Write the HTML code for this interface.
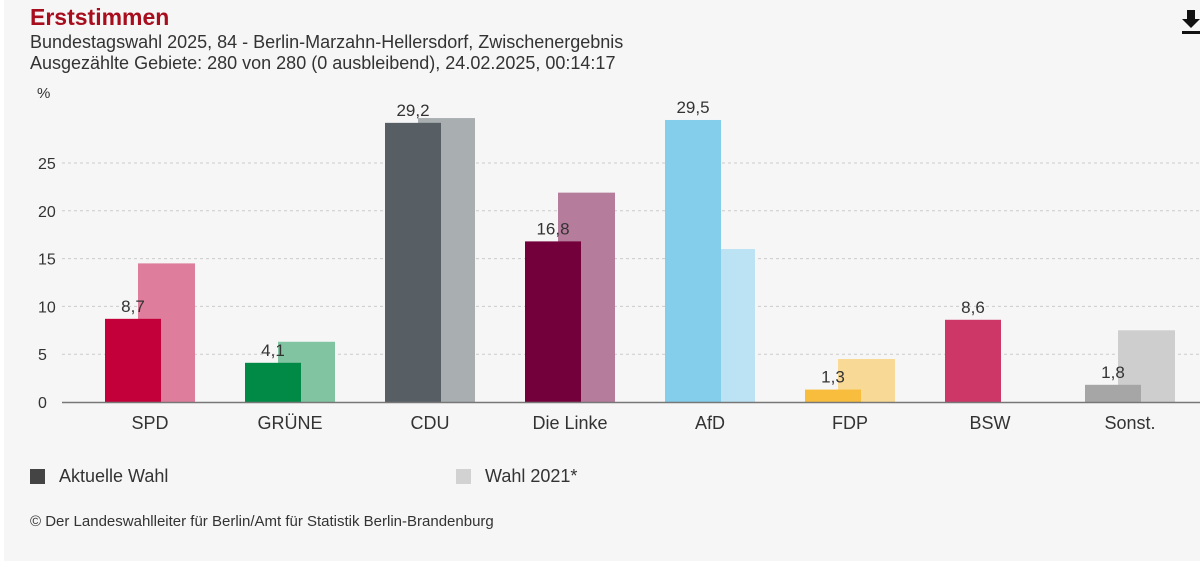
<!DOCTYPE html>
<html><head><meta charset="utf-8"><style>
body{margin:0;width:1200px;height:569px;background:#fff;overflow:hidden;font-family:"Liberation Sans",sans-serif;}
#panel{position:absolute;left:4px;top:0;width:1196px;height:561px;background:#f6f6f6;}
.t{position:absolute;white-space:nowrap;}
</style></head><body>
<div id="panel"></div>
<div class="t" style="left:30px;top:4px;font-size:23px;font-weight:bold;color:#a80d1e;">Erststimmen</div>
<div class="t" style="left:30px;top:32px;font-size:18px;color:#333;">Bundestagswahl 2025, 84 - Berlin-Marzahn-Hellersdorf, Zwischenergebnis</div>
<div class="t" style="left:30px;top:53px;font-size:18px;color:#333;">Ausgezählte Gebiete: 280 von 280 (0 ausbleibend), 24.02.2025, 00:14:17</div>
<svg style="position:absolute;left:1182px;top:10px" width="18" height="26"><path d="M5 0h8v9h5l-9 9-9-9h5z" fill="#111"/><rect x="0" y="21" width="18" height="3" fill="#111"/></svg>
<svg id="chart" width="1200" height="569" style="position:absolute;left:0;top:0;font-family:'Liberation Sans',sans-serif"></svg>
<div style="position:absolute;left:30px;top:466px;"><span style="display:inline-block;width:15px;height:15px;background:#444;vertical-align:-2px"></span><span style="font-size:18px;color:#333;margin-left:14px">Aktuelle Wahl</span></div>
<div style="position:absolute;left:456px;top:466px;"><span style="display:inline-block;width:15px;height:15px;background:#d2d2d2;vertical-align:-2px"></span><span style="font-size:18px;color:#333;margin-left:14px">Wahl 2021*</span></div>
<div class="t" style="left:30px;top:513px;font-size:15px;color:#333;">© Der Landeswahlleiter für Berlin/Amt für Statistik Berlin-Brandenburg</div>
<script>
const categories=["SPD","GRÜNE","CDU","Die Linke","AfD","FDP","BSW","Sonst."];
const current=[8.7,4.1,29.2,16.8,29.5,1.3,8.6,1.8];
const prev=[14.5,6.3,29.7,21.9,16.0,4.5,null,7.5];
const ticks=[0,5,10,15,20,25];
const curColors=["#c4003b","#008a46","#575f64","#73003a","#84cdeb","#f8bd3c","#cc3768","#a6a6a6"];
const prevColors=["#de7e9c","#80c4a2","#a9aeb0","#b57c9c","#bce3f4","#f8d995","#e59bb3","#cecece"];
const svg=document.getElementById('chart');
const NS="http://www.w3.org/2000/svg";
const y=v=>402-v*9.56;
const xc=i=>150+i*140;
function mk(t,a){const e=document.createElementNS(NS,t);for(const k in a)e.setAttribute(k,a[k]);svg.appendChild(e);return e;}
ticks.forEach(t=>{
  if(t>0){const l=mk('line',{x1:62,x2:1200,y1:y(t),y2:y(t),stroke:'#ccc','stroke-dasharray':'3,3'});
  
  }
  const tx=mk('text',{x:38,y:y(t)+6,'font-size':16,fill:'#333'});tx.textContent=t;
  
  
});
const pu=mk('text',{x:37,y:98,'font-size':15,fill:'#333'});pu.textContent='%';


categories.forEach((c,i)=>{
  const cx=xc(i);
  if(prev[i]!=null){const r=mk('rect',{x:cx-12,y:y(prev[i]),width:57,height:prev[i]*9.56,fill:prevColors[i]});
  
  }
  const r2=mk('rect',{x:cx-45,y:y(current[i]),width:56,height:current[i]*9.56,fill:curColors[i]});
  
  
  const v=mk('text',{x:cx-17,y:y(current[i])-7,'font-size':17,fill:'#333','text-anchor':'middle'});
  v.textContent=String(current[i].toFixed(1)).replace('.',',');
  
  
  const lb=mk('text',{x:cx,y:429,'font-size':18,fill:'#333','text-anchor':'middle'});lb.textContent=c;
  
  
});
const ax=mk('line',{x1:62,x2:1200,y1:402.5,y2:402.5,stroke:'#777','stroke-width':1.5});


</script>
</body></html>
